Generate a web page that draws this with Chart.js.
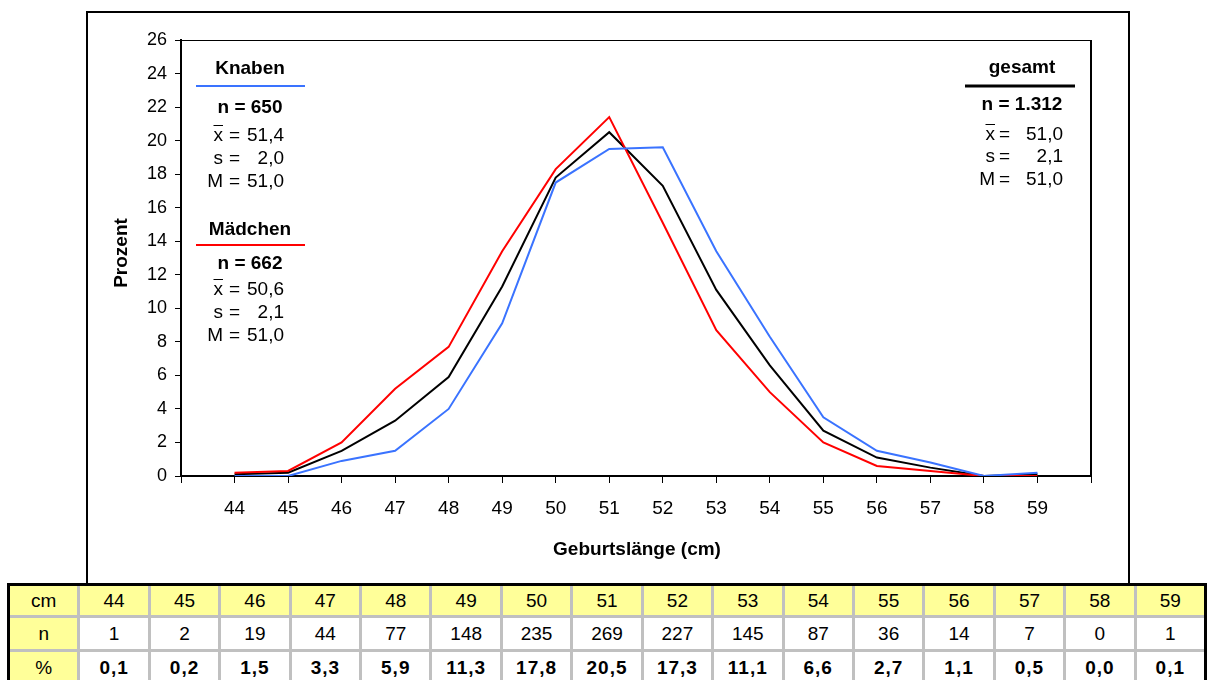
<!DOCTYPE html>
<html lang="de">
<head>
<meta charset="utf-8">
<title>Geburtslänge</title>
<script src="https://cdn.jsdelivr.net/npm/chart.js@4.4.1/dist/chart.umd.min.js"></script>
<style>
  html, body { margin: 0; padding: 0; background: #fff; width: 1207px; height: 680px; overflow: hidden;
    font-family: "Liberation Sans", Arial, sans-serif; }
  #frame { position: absolute; left: 86px; top: 11px; width: 1044px; height: 580px; box-sizing: border-box;
    border: 2px solid #000; border-bottom: none; }
  #chart { position: absolute; left: 0; top: 0; }
  #table { position: absolute; left: 7px; top: 583px; width: 1200px; box-sizing: border-box;
    border: 3px solid #000; border-bottom: none; background: #c0c0c0; display: grid;
    grid-template-columns: repeat(17, 1fr); grid-template-rows: 29px 31px 31px; gap: 3px; }
  .cell { background: #fff; display: flex; align-items: center; justify-content: center; font-size: 19px; color: #000; }
  .hd { background: #ffff99; }
  .b { font-weight: bold; letter-spacing: 1px; }
</style>
</head>
<body>
<div id="frame"></div>
<canvas id="chart" width="1207" height="583"></canvas>
<div id="table"></div>
<script>
// Birth length in cm (x axis categories)
const categories = [44, 45, 46, 47, 48, 49, 50, 51, 52, 53, 54, 55, 56, 57, 58, 59];
// Percent of births per length
const knaben   = [0.0, 0.0, 0.9, 1.5, 4.0, 9.1, 17.5, 19.5, 19.6, 13.4, 8.3, 3.5, 1.5, 0.8, 0.0, 0.2];
const maedchen = [0.2, 0.3, 2.0, 5.2, 7.7, 13.4, 18.3, 21.4, 15.1, 8.7, 5.0, 2.0, 0.6, 0.3, 0.0, 0.0];
const gesamt   = [0.1, 0.2, 1.5, 3.3, 5.9, 11.3, 17.8, 20.5, 17.3, 11.1, 6.6, 2.7, 1.1, 0.5, 0.0, 0.1];
// Absolute counts (all children)
const counts   = [1, 2, 19, 44, 77, 148, 235, 269, 227, 145, 87, 36, 14, 7, 0, 1];

// Summary statistics per group
const statLabels    = ['x', 's', 'M'];
const knabenStats   = ['51,4', '2,0', '51,0'];
const maedchenStats = ['50,6', '2,1', '51,0'];
const gesamtStats   = ['51,0', '2,1', '51,0'];
const knabenN = '650', maedchenN = '662', gesamtN = '1.312';

const BLUE = '#3a73ff', RED = '#ff0000', BLACK = '#000000';
const FONT = '"Liberation Sans", Arial, sans-serif';

const fmt = v => v.toFixed(1).replace('.', ',');

// ---- frequency table under the chart ----
(function buildTable() {
  const t = document.getElementById('table');
  const add = (txt, cls) => {
    const d = document.createElement('div');
    d.className = 'cell ' + (cls || '');
    d.textContent = txt;
    t.appendChild(d);
  };
  add('cm', 'hd');
  categories.forEach(c => add(String(c), 'hd'));
  add('n', 'hd');
  counts.forEach(c => add(String(c)));
  add('%', 'hd');
  gesamt.forEach(p => add(fmt(p), 'b'));
})();

// ---- layout of the text blocks inside the plot ----
const blockLayout = {
  knaben:   { cx: 250, titleY: 69, lineY: 86, x0: 196, x1: 305, lineW: 2, nY: 108, rows: [136, 159, 182], labelRight: 223, eqLeft: 229, valRight: 284 },
  maedchen: { cx: 250, titleY: 230, lineY: 245, x0: 196, x1: 305, lineW: 2, nY: 264, rows: [290, 313, 336], labelRight: 223, eqLeft: 229, valRight: 284 },
  gesamt:   { cx: 1022, titleY: 68, lineY: 86, x0: 965, x1: 1075, lineW: 3, nY: 105, rows: [135, 157, 180], labelRight: 995, eqLeft: 999, valRight: 1063 }
};

const blocks = [
  { title: 'Knaben', n: knabenN, stats: knabenStats, color: BLUE, lay: blockLayout.knaben },
  { title: 'Mädchen', n: maedchenN, stats: maedchenStats, color: RED, lay: blockLayout.maedchen },
  { title: 'gesamt', n: gesamtN, stats: gesamtStats, color: BLACK, lay: blockLayout.gesamt }
];

const annotations = {
  id: 'annotations',
  afterDraw(chart) {
    const ctx = chart.ctx;
    const a = chart.chartArea;
    ctx.save();
    // plot frame (top and right edges)
    ctx.strokeStyle = '#000';
    ctx.lineWidth = 1;
    ctx.beginPath();
    ctx.moveTo(a.left, a.top + 0.5);
    ctx.lineTo(a.right, a.top + 0.5);
    ctx.stroke();
    ctx.lineWidth = 2;
    ctx.beginPath();
    ctx.moveTo(a.right, a.top);
    ctx.lineTo(a.right, a.bottom);
    ctx.stroke();

    ctx.fillStyle = '#000';
    ctx.textBaseline = 'middle';
    blocks.forEach(b => {
      const L = b.lay;
      ctx.font = 'bold 19px ' + FONT;
      ctx.textAlign = 'center';
      ctx.fillText(b.title, L.cx, L.titleY);
      ctx.strokeStyle = b.color;
      ctx.lineWidth = L.lineW;
      ctx.beginPath();
      ctx.moveTo(L.x0, L.lineY);
      ctx.lineTo(L.x1, L.lineY);
      ctx.stroke();
      ctx.fillText('n = ' + b.n, L.cx, L.nY);
      ctx.font = '19px ' + FONT;
      statLabels.forEach((lab, i) => {
        const y = L.rows[i];
        ctx.textAlign = 'right';
        ctx.fillText(lab, L.labelRight, y);
        if (i === 0) {
          const w = ctx.measureText(lab).width;
          ctx.strokeStyle = '#000';
          ctx.lineWidth = 1;
          ctx.beginPath();
          ctx.moveTo(L.labelRight - w, y - 10.5);
          ctx.lineTo(L.labelRight, y - 10.5);
          ctx.stroke();
        }
        ctx.textAlign = 'left';
        ctx.fillText('=', L.eqLeft, y);
        ctx.textAlign = 'right';
        ctx.fillText(b.stats[i], L.valRight, y);
      });
    });

    // axis titles
    ctx.font = 'bold 19px ' + FONT;
    ctx.textAlign = 'center';
    ctx.fillText('Geburtslänge (cm)', 637, 550);
    ctx.translate(122, 253);
    ctx.rotate(-Math.PI / 2);
    ctx.fillText('Prozent', 0, 0);
    ctx.restore();
  }
};

const toPoints = arr => categories.map((c, i) => ({ x: c, y: arr[i] }));

new Chart(document.getElementById('chart'), {
  type: 'line',
  data: {
    datasets: [
      { label: 'Knaben', data: toPoints(knaben), borderColor: BLUE, borderWidth: 2 },
      { label: 'Mädchen', data: toPoints(maedchen), borderColor: RED, borderWidth: 2 },
      { label: 'gesamt', data: toPoints(gesamt), borderColor: BLACK, borderWidth: 2 }
    ]
  },
  options: {
    responsive: false,
    animation: false,
    events: [],
    layout: { padding: { left: 0, top: 40, right: 116, bottom: 0 } },
    elements: { point: { radius: 0 }, line: { tension: 0, fill: false } },
    plugins: { legend: { display: false }, tooltip: { enabled: false } },
    scales: {
      x: {
        type: 'linear',
        min: 43, max: 60,
        afterFit: s => { s.height = 107; },
        ticks: {
          stepSize: 1, autoSkip: false, maxRotation: 0, padding: 14, color: '#000',
          font: { family: FONT, size: 19 },
          callback: v => (v >= categories[0] && v <= categories[categories.length - 1]) ? String(v) : ''
        },
        grid: { display: true, drawOnChartArea: false, drawTicks: true, tickLength: 7, color: '#000', lineWidth: 1 },
        border: { display: true, color: '#000', width: 2 }
      },
      y: {
        min: 0, max: 26,
        afterFit: s => { s.width = 181; },
        ticks: { stepSize: 2, padding: 8, color: '#000', font: { family: FONT, size: 18 } },
        grid: { display: true, drawOnChartArea: false, drawTicks: true, tickLength: 6, color: '#000', lineWidth: 1 },
        border: { display: true, color: '#000', width: 2 }
      }
    }
  },
  plugins: [annotations]
});
</script>
</body>
</html>
